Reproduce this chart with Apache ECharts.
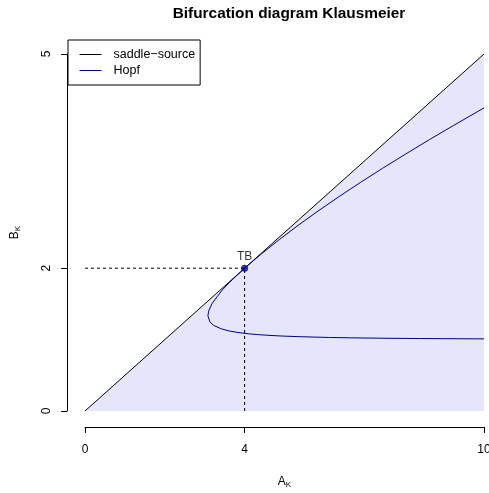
<!DOCTYPE html>
<html>
<head>
<meta charset="utf-8">
<script src="https://cdn.jsdelivr.net/npm/echarts@6/dist/echarts.min.js"></script>
<style>html,body{margin:0;padding:0;background:#fff}#c{width:489px;height:493px}</style>
</head>
<body>
<div id="c"></div>
<script>
// Data
var saddleA = [0, 10];
var saddleB = [0, 5];
var hopfA = [10.0, 9.35, 9.0, 8.41, 7.72, 7.36, 6.65, 6.13, 5.41, 4.93, 4.59, 4.33, 4.12, 3.83, 3.62, 3.42, 3.22, 3.13, 3.08, 3.10, 3.18, 3.31, 3.45, 3.62, 3.81, 4.0, 4.42, 4.87, 5.34, 5.84, 6.36, 6.90, 7.46, 8.04, 8.63, 9.24, 9.86, 10.0];
var hopfB = [1.010, 1.012, 1.013, 1.015, 1.018, 1.02, 1.025, 1.03, 1.04, 1.05, 1.06, 1.07, 1.08, 1.10, 1.12, 1.15, 1.20, 1.25, 1.333, 1.4, 1.5, 1.6, 1.7, 1.8, 1.9, 2.0, 2.2, 2.4, 2.6, 2.8, 3.0, 3.2, 3.4, 3.6, 3.8, 4.0, 4.2, 4.245];
var tbA = 4, tbB = 2;
var xTicks = [0, 4, 10];
var yTicks = [0, 2, 5];

function pairs(a, b) { return a.map(function (v, i) { return [v, b[i]]; }); }

var font = 'Liberation Sans, Arial, Helvetica, sans-serif';
var chart = echarts.init(document.getElementById('c'), null, { renderer: 'canvas' });
chart.setOption({
  animation: false,
  textStyle: { fontFamily: font },
  title: {
    text: 'Bifurcation diagram Klausmeier',
    left: 284, top: 1, textAlign: 'center',
    textStyle: { fontSize: 15.4, fontWeight: 'bold', color: '#000', fontFamily: font }
  },
  legend: {
    left: 68, top: 40,
    orient: 'vertical',
    data: ['saddle\u2212source', 'Hopf'],
    borderColor: '#000', borderWidth: 1, borderRadius: 0,
    padding: [8, 5, 8, 11],
    itemWidth: 22, itemHeight: 14, itemGap: 3,
    itemStyle: { opacity: 0 },
    lineStyle: { width: 1, opacity: 1 },
    textStyle: { fontSize: 12.5, color: '#000', fontFamily: font, padding: [0, 0, 0, 7] }
  },
  grid: { left: 85, top: 54, width: 399, height: 357, outerBoundsMode: 'none', containLabel: false },
  xAxis: {
    type: 'value', min: 0, max: 10, offset: 16,
    name: '{a|A}{s|K}', nameLocation: 'middle', nameGap: 48,
    nameTextStyle: { rich: { a: { fontSize: 12, color: '#000', fontFamily: font }, s: { fontSize: 8, color: '#000', fontFamily: font, padding: [6, 0, 0, 0] } } },
    axisLine: { show: true, onZero: false, lineStyle: { color: '#000', width: 1 } },
    axisTick: { show: true, length: 6, customValues: xTicks, lineStyle: { color: '#000' } },
    axisLabel: { customValues: xTicks, color: '#000', fontSize: 12, margin: 17, fontFamily: font },
    splitLine: { show: false }
  },
  yAxis: {
    type: 'value', min: 0, max: 5, offset: 18,
    name: '{a|B}{s|K}', nameLocation: 'middle', nameGap: 45, nameRotate: 90,
    nameTextStyle: { rich: { a: { fontSize: 12, color: '#000', fontFamily: font }, s: { fontSize: 8, color: '#000', fontFamily: font, padding: [6, 0, 0, 0] } } },
    axisLine: { show: true, onZero: false, lineStyle: { color: '#000', width: 1 } },
    axisTick: { show: true, length: 6, customValues: yTicks, lineStyle: { color: '#000' } },
    axisLabel: { customValues: yTicks, rotate: 90, color: '#000', fontSize: 12, margin: 14, fontFamily: font },
    splitLine: { show: false }
  },
  series: [
    {
      type: 'line', data: pairs(saddleA, saddleB), symbol: 'none', silent: true,
      lineStyle: { width: 0 }, areaStyle: { color: '#E6E6FA', opacity: 1, origin: 'start' }, z: 1
    },
    {
      name: 'saddle\u2212source', type: 'line', data: pairs(saddleA, saddleB), symbol: 'none',
      lineStyle: { color: '#000', width: 1 }, itemStyle: { color: '#000' }, z: 3
    },
    {
      name: 'Hopf', type: 'line', data: pairs(hopfA, hopfB), symbol: 'none', smooth: false,
      lineStyle: { color: '#000080', width: 1 }, itemStyle: { color: '#000080' }, z: 4
    },
    {
      type: 'line', data: [[0, tbB], [tbA, tbB]], symbol: 'none',
      lineStyle: { color: '#000', width: 1, type: [3, 3] }, z: 2
    },
    {
      type: 'line', data: [[tbA, 0], [tbA, tbB]], symbol: 'none',
      lineStyle: { color: '#000', width: 1, type: [3, 3] }, z: 2
    },
    {
      type: 'scatter', data: [[tbA, tbB]], symbol: 'circle', symbolSize: 7,
      itemStyle: { color: '#000080' }, z: 5,
      label: { show: true, position: 'top', formatter: 'TB', color: '#000', fontSize: 12, distance: 2, fontFamily: font }
    }
  ]
});
</script>
</body>
</html>
